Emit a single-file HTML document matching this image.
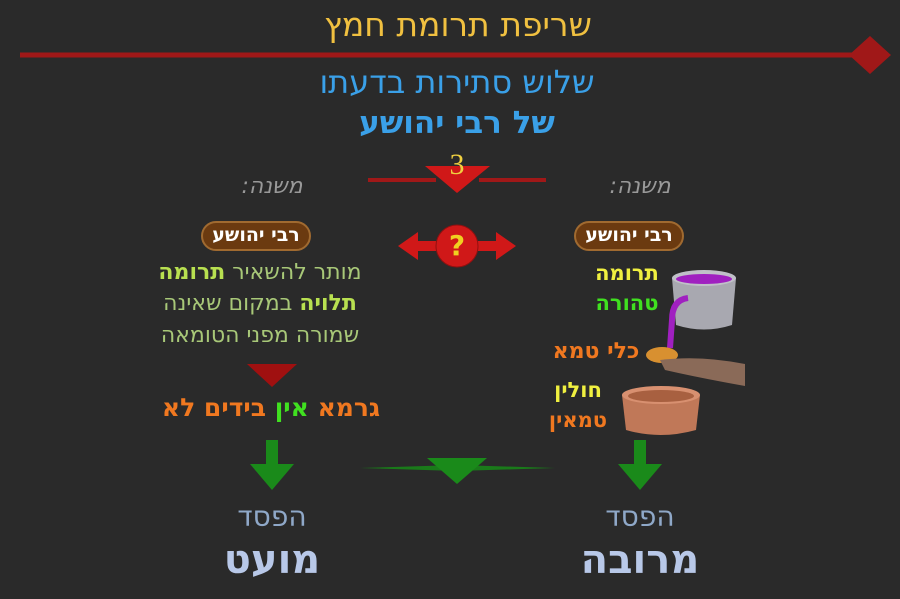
<!DOCTYPE html><html><head><meta charset="utf-8"><style>
body{margin:0;width:900px;height:599px;background:#2a2a2a;overflow:hidden;position:relative;font-family:"DejaVu Sans","Liberation Sans",sans-serif}
.t{position:absolute;white-space:nowrap;direction:rtl;transform:translateX(-50%);line-height:1}
</style></head><body>
<svg width="900" height="599" style="position:absolute;left:0;top:0">
<line x1="20" y1="55" x2="860" y2="55" stroke="#a01818" stroke-width="5"/>
<polygon points="870,36 891,55 870,74 849,55" fill="#a01818"/>
<line x1="368" y1="180" x2="436" y2="180" stroke="#a01818" stroke-width="4"/>
<line x1="479" y1="180" x2="546" y2="180" stroke="#a01818" stroke-width="4"/>
<polygon points="425,166 490,166 457,193" fill="#d01818"/>
<rect x="202" y="222" width="108" height="28" rx="14" fill="#6b3a10" stroke="#a06a30" stroke-width="2"/>
<rect x="575" y="222" width="108" height="28" rx="14" fill="#6b3a10" stroke="#a06a30" stroke-width="2"/>
<polygon points="398,246 418,232 418,260" fill="#d01818"/>
<polygon points="516,246 496,232 496,260" fill="#d01818"/>
<rect x="410" y="241" width="94" height="10" fill="#d01818"/>
<circle cx="457" cy="246" r="21" fill="#d01818" stroke="#901010"/>
<polygon points="247,364 297,364 272,387" fill="#a01010"/>
<polygon points="360,468 555,468 457,465" fill="#1a7a1a"/>
<polygon points="360,468 457,471 555,468" fill="#1a7a1a"/>
<polygon points="427,458 487,458 457,484" fill="#1a8a1a"/>
<rect x="266" y="440" width="12" height="25" fill="#1a8a1a"/><polygon points="250,464 294,464 272,490" fill="#1a8a1a"/>
<rect x="634" y="440" width="12" height="25" fill="#1a8a1a"/><polygon points="618,464 662,464 640,490" fill="#1a8a1a"/>
<path d="M672,278 L736,278 L732,325 Q704,334 676,325 Z" fill="#a8a8b0"/>
<ellipse cx="704" cy="278" rx="32" ry="8" fill="#c0c0c8"/><ellipse cx="704" cy="279" rx="28" ry="5" fill="#a020c0"/>
<path d="M688,298 Q672,300 672,320 L670,348" stroke="#a020c0" stroke-width="6" fill="none"/>
<ellipse cx="662" cy="355" rx="16" ry="8" fill="#d89030"/>
<path d="M660,360 Q700,355 745,364 L745,386 Q700,378 665,370 Z" fill="#8a6a58"/>
<path d="M622,395 L700,395 L696,430 Q660,440 626,430 Z" fill="#c07858"/>
<ellipse cx="661" cy="395" rx="39" ry="9" fill="#d89070"/><ellipse cx="661" cy="396" rx="33" ry="6" fill="#a86040"/>
</svg>
<div class="t" style="left:458px;top:8px;font-size:33px;color:#f0c040">שריפת תרומת חמץ</div>
<div class="t" style="left:457px;top:66px;font-size:32px;color:#3aa0e8">שלוש סתירות בדעתו</div>
<div class="t" style="left:457px;top:108px;font-size:31px;color:#3aa0e8;font-weight:bold">של רבי יהושע</div>
<div class="t" style="left:457px;top:150px;font-size:30px;color:#f0d040;font-family:'Liberation Serif',serif">3</div>
<div class="t" style="left:272px;top:176px;font-size:22px;color:#999;font-style:italic">משנה:</div>
<div class="t" style="left:640px;top:176px;font-size:22px;color:#999;font-style:italic">משנה:</div>
<div class="t" style="left:256px;top:226px;font-size:19px;color:#fff;font-weight:bold">רבי יהושע</div>
<div class="t" style="left:629px;top:226px;font-size:19px;color:#fff;font-weight:bold">רבי יהושע</div>
<div class="t" style="left:457px;top:232px;font-size:28px;color:#f0d020;font-weight:bold;direction:ltr">?</div>
<div class="t" style="left:260px;top:262px;font-size:22px;color:#a8c878">מותר להשאיר <b style="color:#b8e050">תרומה</b></div>
<div class="t" style="left:260px;top:293px;font-size:22px;color:#a8c878"><b style="color:#b8e050">תלויה</b> במקום שאינה</div>
<div class="t" style="left:260px;top:325px;font-size:22px;color:#a8c878">שמורה מפני הטומאה</div>
<div class="t" style="left:271px;top:395px;font-size:25px;font-weight:bold;color:#f07820">גרמא <span style="color:#40e020">אין</span> בידים לא</div>
<div class="t" style="left:627px;top:263px;font-size:21px;font-weight:bold;color:#f0f040">תרומה</div>
<div class="t" style="left:627px;top:293px;font-size:21px;font-weight:bold;color:#40e020">טהורה</div>
<div class="t" style="left:596px;top:341px;font-size:22px;font-weight:bold;color:#f07820">כלי טמא</div>
<div class="t" style="left:578px;top:380px;font-size:21px;font-weight:bold;color:#f0f040">חולין</div>
<div class="t" style="left:578px;top:410px;font-size:21px;font-weight:bold;color:#f07820">טמאין</div>
<div class="t" style="left:272px;top:503px;font-size:28px;color:#8fa8c8">הפסד</div>
<div class="t" style="left:640px;top:503px;font-size:28px;color:#8fa8c8">הפסד</div>
<div class="t" style="left:272px;top:540px;font-size:40px;font-weight:bold;color:#b8c8e8">מועט</div>
<div class="t" style="left:640px;top:540px;font-size:40px;font-weight:bold;color:#b8c8e8">מרובה</div>
</body></html>
